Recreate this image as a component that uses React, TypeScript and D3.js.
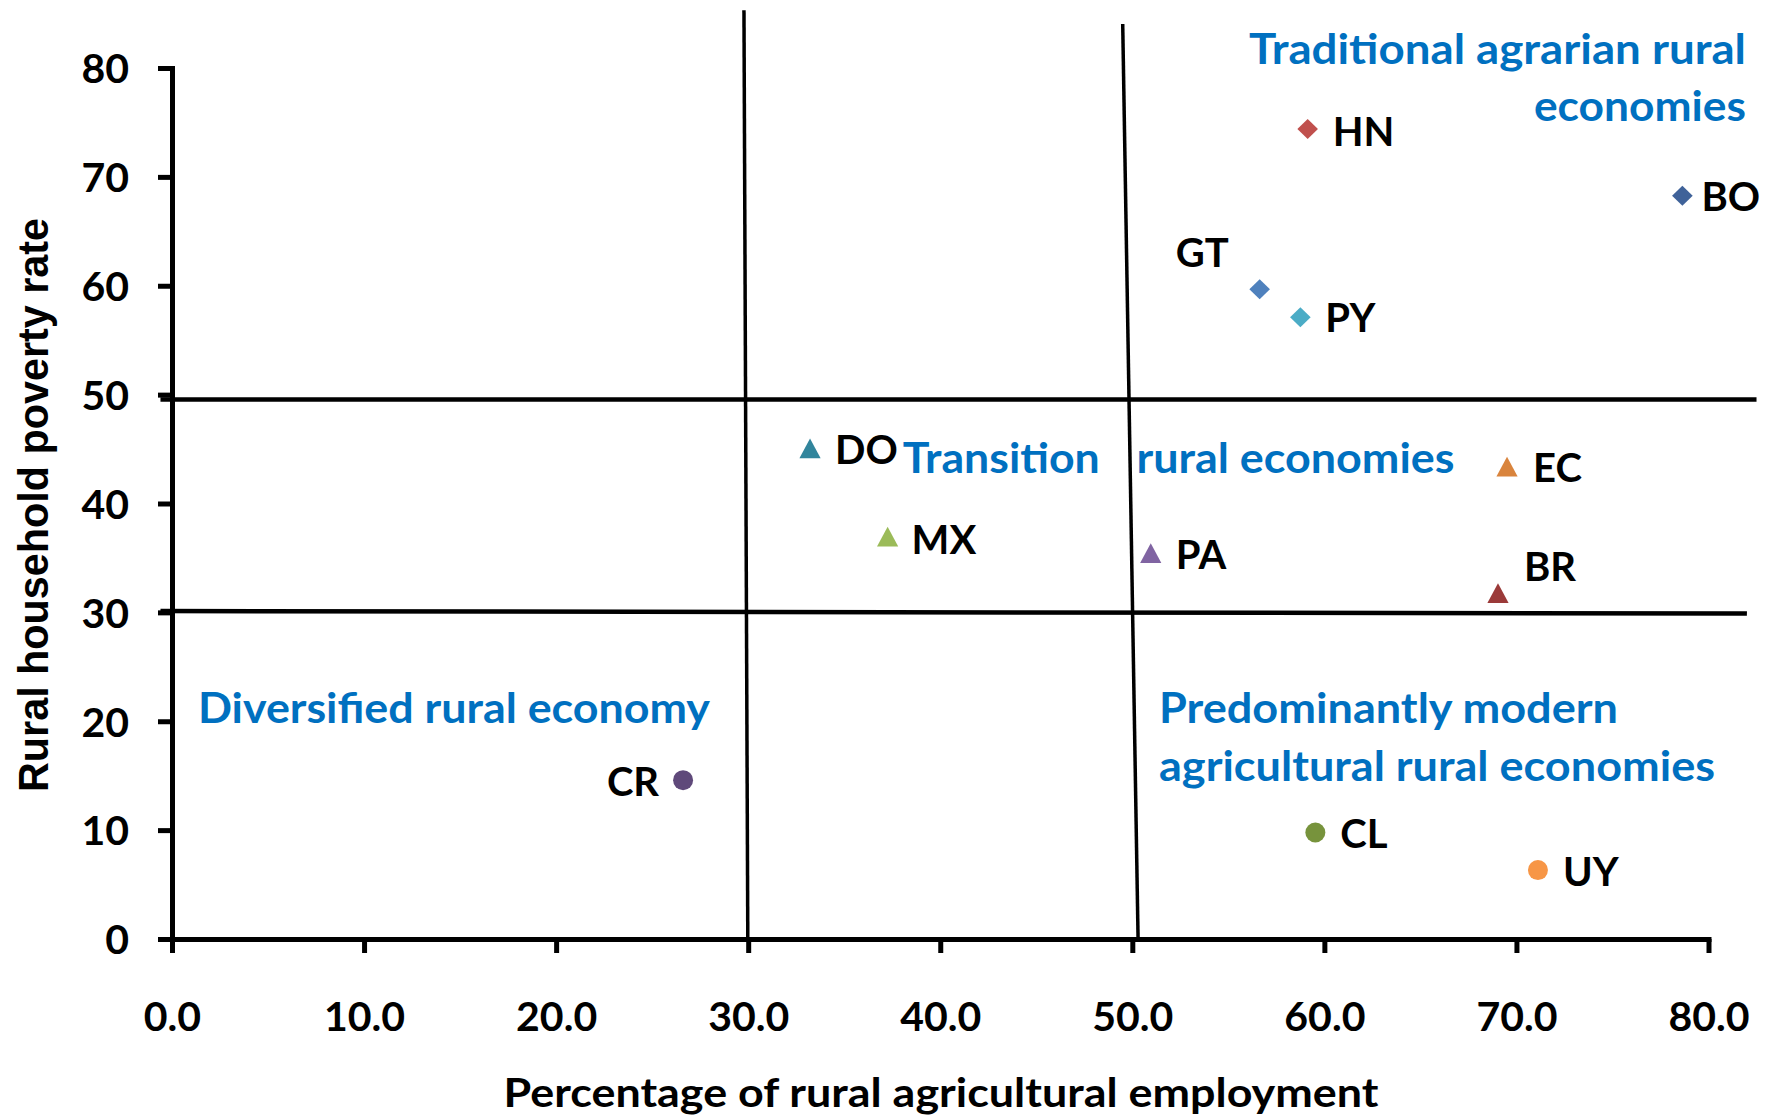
import React, { useEffect, useRef } from "react";
import * as d3 from "d3";

// ---------- DATA ----------
const countries = ["HN", "BO", "GT", "PY", "DO", "MX", "PA", "EC", "BR", "CR", "CL", "UY"];
const agriEmployment = [59.13, 78.64, 56.63, 58.75, 33.22, 37.26, 50.96, 69.51, 69.04, 26.61, 59.53, 71.12];
const povertyRate = [74.4, 68.27, 59.67, 57.1, 45.06, 36.95, 35.43, 43.38, 31.75, 14.59, 9.78, 6.33];
const markerShapes = ["diamond", "diamond", "diamond", "diamond", "triangle", "triangle", "triangle", "triangle", "triangle", "circle", "circle", "circle"];
const markerColors = ["#C0504D", "#3F6299", "#4F81BD", "#4BACC6", "#31859C", "#9BBB59", "#8064A2", "#D9843D", "#9B3A39", "#5F497A", "#77933C", "#F79646"];

const xTicks = [0, 10, 20, 30, 40, 50, 60, 70, 80];
const yTicks = [0, 10, 20, 30, 40, 50, 60, 70, 80];

const xTitle = "Percentage of rural agricultural employment";
const yTitle = "Rural household poverty rate";

// quadrant divider lines, in data units
const dividerX1 = [-0.6, -0.6, 29.78, 49.5];
const dividerY1 = [49.56, 30.12, 85.3, 84.05];
const dividerX2 = [82.5, 82.0, 29.98, 50.3];
const dividerY2 = [49.56, 29.89, 0, 0];

// quadrant annotation texts and their anchor (data units)
const annotationTexts = [
  "Traditional agrarian rural",
  "economies",
  "Transition",
  "rural economies",
  "Diversified rural economy",
  "Predominantly modern",
  "agricultural rural economies",
];
const annotationX = [81.95, 81.95, 38.05, 50.22, 1.35, 51.39, 51.39];
const annotationY = [80.4, 75.13, 42.8, 42.8, 19.8, 19.8, 14.51];

// ---------- LAYOUT / STYLE ----------
const W = 1773;
const H = 1117;
const PLOT_LEFT = 172;
const PLOT_RIGHT = 1708.5;
const PLOT_TOP = 68;
const PLOT_BOTTOM = 939;

const CAL = "Lato, 'Open Sans', 'Liberation Sans', sans-serif";
const BLUE = "#0070C0";

const annotationAnchor = ["end", "end", "start", "start", "start", "start", "start"];
const annotationWidth = [497, 212, 197, 318, 512, 459, 556];

// label offsets relative to marker (px)
const labelDx = [25, 19, -31, 25, 25, 24, 25, 26, 26, -24, 25, 25];
const labelDy = [17, 15, -22, 15, 16, 17, 16, 15, -12, 16, 15, 16];
const labelAnchor = ["start", "start", "end", "start", "start", "start", "start", "start", "start", "end", "start", "start"];

function markerPath(shape: string) {
  if (shape === "diamond") return "M0,-10L10.3,0L0,10L-10.3,0Z";
  if (shape === "triangle") return "M0,-10L10.6,9.8L-10.6,9.8Z";
  const p = d3.path();
  p.arc(0, 0, 10, 0, Math.PI * 2);
  p.closePath();
  return p.toString();
}

export default function App() {
  const xAxisRef = useRef<SVGGElement>(null);
  const yAxisRef = useRef<SVGGElement>(null);

  const x = d3.scaleLinear().domain([0, 80]).range([PLOT_LEFT, PLOT_RIGHT]);
  const y = d3.scaleLinear().domain([0, 80]).range([PLOT_BOTTOM, PLOT_TOP]);

  useEffect(() => {
    const gx = d3.select(xAxisRef.current as SVGGElement);
    gx.call(
      d3
        .axisBottom(x)
        .tickValues(xTicks)
        .tickFormat(d3.format(".1f"))
        .tickSize(14)
        .tickSizeOuter(0)
    );
    gx.attr("font-family", CAL).attr("font-size", 41).attr("font-weight", 700);
    gx.select(".domain").attr("stroke", "#000").attr("stroke-width", 5).attr("stroke-linecap", "square");
    gx.selectAll(".tick line").attr("stroke", "#000").attr("stroke-width", 5);
    gx.selectAll(".tick text").attr("y", 92).attr("dy", 0).attr("fill", "#000");

    const gy = d3.select(yAxisRef.current as SVGGElement);
    gy.call(
      d3
        .axisLeft(y)
        .tickValues(yTicks)
        .tickFormat(d3.format("d"))
        .tickSize(14)
        .tickPadding(29)
        .tickSizeOuter(0)
    );
    gy.attr("font-family", CAL).attr("font-size", 41).attr("font-weight", 700);
    gy.select(".domain").attr("stroke", "#000").attr("stroke-width", 5).attr("stroke-linecap", "square");
    gy.selectAll(".tick line").attr("stroke", "#000").attr("stroke-width", 5);
    gy.selectAll(".tick text").attr("dy", "0.36em").attr("fill", "#000");
  }, []);

  return (
    <div style={{ position: "absolute", left: 0, top: 0, background: "#fff" }}>
      <svg width={W} height={H} viewBox={`0 0 ${W} ${H}`} style={{ display: "block", background: "#fff" }}>
        {/* divider lines */}
        {dividerX1.map((_, i) => (
          <line
            key={"div" + i}
            x1={x(dividerX1[i])}
            y1={y(dividerY1[i])}
            x2={x(dividerX2[i])}
            y2={y(dividerY2[i])}
            stroke="#000"
            strokeWidth={i < 2 ? 4.5 : 3.5}
          />
        ))}

        {/* axes */}
        <g ref={xAxisRef} transform={`translate(0,${PLOT_BOTTOM})`} />
        <g ref={yAxisRef} transform={`translate(${PLOT_LEFT},0)`} />

        {/* markers */}
        {countries.map((c, i) => (
          <path
            key={"m" + c}
            d={markerPath(markerShapes[i])}
            transform={`translate(${x(agriEmployment[i])},${y(povertyRate[i])})`}
            fill={markerColors[i]}
          />
        ))}

        {/* country labels */}
        {countries.map((c, i) => (
          <text
            key={"l" + c}
            x={x(agriEmployment[i]) + labelDx[i]}
            y={y(povertyRate[i]) + labelDy[i]}
            textAnchor={labelAnchor[i]}
            fontFamily={CAL}
            fontWeight={700}
            fontSize={40}
            fill="#000"
          >
            {c}
          </text>
        ))}

        {/* quadrant annotations */}
        {annotationTexts.map((t, i) => (
          <text
            key={"a" + i}
            x={x(annotationX[i])}
            y={y(annotationY[i])}
            textAnchor={annotationAnchor[i]}
            fontFamily={CAL}
            fontWeight={700}
            fontSize={42}
            fill={BLUE}
            textLength={annotationWidth[i]}
            lengthAdjust="spacingAndGlyphs"
          >
            {t}
          </text>
        ))}

        {/* axis titles */}
        <text
          x={941}
          y={1107}
          textAnchor="middle"
          fontFamily={CAL}
          fontWeight={700}
          fontSize={40}
          fill="#000"
          textLength={875}
          lengthAdjust="spacingAndGlyphs"
        >
          {xTitle}
        </text>
        <text
          transform="translate(47.7,505) rotate(-90)"
          textAnchor="middle"
          fontFamily="'Liberation Sans', Arial, sans-serif"
          fontWeight={700}
          fontSize={43}
          fill="#000"
          textLength={574}
          lengthAdjust="spacingAndGlyphs"
        >
          {yTitle}
        </text>
      </svg>
    </div>
  );
}
